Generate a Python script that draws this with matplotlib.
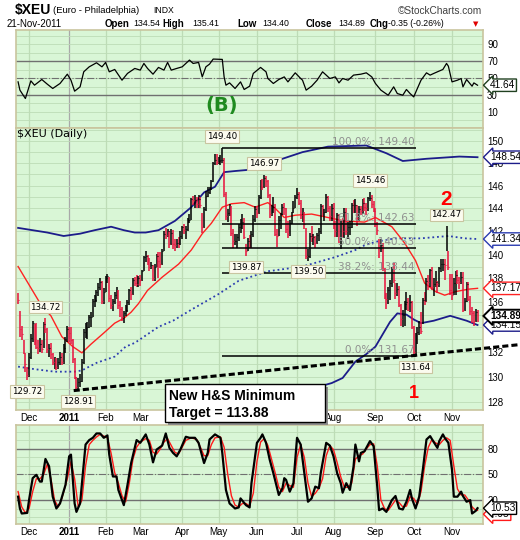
import numpy as np
import pandas as pd
import matplotlib
matplotlib.use('Agg')
import matplotlib.pyplot as plt
import matplotlib.transforms as mtrans
from matplotlib.patches import Rectangle
from matplotlib.ticker import FixedLocator, NullLocator, FuncFormatter

plt.rcParams['font.family'] = ['Liberation Sans', 'DejaVu Sans']

# ---------------- data ----------------
holidays = ['2010-11-25', '2010-12-24', '2011-01-17', '2011-02-21',
            '2011-04-22', '2011-05-30', '2011-07-04', '2011-09-05']
dates = pd.bdate_range('2010-11-22', '2011-11-21', freq='C', holidays=holidays)

prev_close = 136.7   # close before the first bar
open_last = 134.54

closes = [
    # Nov 2010
    136.2, 133.8, 133.4, 132.1, 131.0, 130.1,
    # Dec
    131.6, 133.1, 134.3, 132.8, 132.4, 132.3, 132.6, 132.2, 134.2, 133.8, 132.2,
    132.3, 131.8, 131.2, 131.2, 130.8, 131.2, 131.6, 131.2, 132.3, 133.0, 133.8,
    # Jan 2011
    133.5, 132.9, 131.4, 130.0, 129.2, 129.6, 129.7, 131.2, 133.6, 133.8, 134.0,
    134.8, 134.8, 136.1, 136.2, 136.9, 137.3, 137.7, 136.1, 136.9,
    # Feb
    138.0, 138.2, 136.4, 135.8, 136.1, 136.6, 136.9, 135.8, 135.5, 134.8, 135.1,
    135.4, 136.0, 137.0, 136.7, 137.9, 137.6, 137.5, 138.0,
    # Mar
    137.9, 138.6, 139.8, 139.9, 139.6, 139.0, 139.1, 138.0, 139.0, 139.9, 139.5,
    139.2, 140.3, 141.8, 141.7, 142.0, 140.9, 141.9, 140.9, 140.8, 141.0, 140.9, 141.6,
    # Apr
    142.4, 142.1, 142.2, 143.0, 143.0, 144.8, 144.7, 144.7, 144.4, 144.8, 144.3,
    142.4, 143.9, 145.1, 145.4, 145.8, 146.4, 148.0, 148.3, 148.1,
    # May
    148.2, 148.3, 148.3, 145.3, 143.3, 143.6, 144.1, 141.9, 141.2, 141.2, 141.5,
    142.4, 142.7, 142.8, 141.5, 140.3, 141.2, 140.7, 141.8, 143.1, 143.9,
    # Jun
    143.6, 145.0, 146.4, 145.9, 146.7, 146.4, 145.2, 143.5, 143.9, 144.1, 141.8,
    141.6, 143.0, 143.5, 144.1, 144.0, 142.2, 141.8, 142.7, 143.6, 144.0, 145.0,
    # Jul
    145.3, 144.5, 143.4, 143.4, 142.6, 139.9, 139.9, 141.6, 141.5, 141.5, 141.0,
    141.7, 142.0, 144.2, 143.7, 143.7, 145.0, 144.0, 143.3, 144.0,
    # Aug
    142.4, 142.0, 143.4, 141.3, 142.7, 142.0, 143.7, 142.0, 142.4, 142.4, 144.3,
    143.9, 144.3, 143.2, 143.9, 143.8, 144.5, 144.1, 144.0, 144.9, 144.9, 144.4, 143.8,
    # Sep
    142.6, 142.1, 140.7, 140.8, 138.8, 136.5, 136.3, 137.0, 137.6, 138.8, 137.9,
    136.8, 137.1, 135.8, 134.6, 135.0, 135.9, 136.0, 135.4, 136.0, 134.0,
    # Oct
    132.0, 133.4, 133.6, 134.0, 133.7, 136.2, 136.1, 137.8, 137.7, 138.7, 137.3,
    137.5, 137.7, 137.5, 138.9, 139.2, 139.2, 139.1, 141.7, 139.0, 137.0,
    # Nov
    136.6, 137.6, 138.3, 137.9, 137.7, 138.1, 135.4, 136.1, 137.5, 136.3, 135.3,
    135.1, 134.5, 135.24, 134.89,
]

highs = [
    136.8, 135.3, 134.1, 132.9, 131.9, 130.8,
    131.9, 133.4, 134.5, 134.2, 134.3, 132.9, 133.1, 132.9, 134.4, 134.72, 133.9,
    132.6, 132.7, 131.9, 131.6, 131.5, 131.5, 132.0, 131.9, 132.6, 133.2, 134.1,
    134.0, 134.0, 133.0, 131.5, 130.0, 129.9, 130.2, 131.4, 133.8, 134.3, 134.4,
    135.0, 135.2, 136.3, 136.6, 137.0, 137.6, 138.0, 137.8, 137.2,
    138.2, 138.4, 138.1, 136.6, 136.3, 136.9, 137.3, 137.0, 136.1, 135.6, 135.3,
    135.8, 136.2, 137.1, 137.3, 138.0, 138.1, 138.3, 138.2,
    138.3, 138.7, 139.9, 140.3, 140.0, 139.7, 139.4, 139.1, 139.2, 140.1, 140.2,
    140.2, 140.5, 142.0, 142.3, 142.2, 142.0, 142.2, 142.1, 141.3, 141.3, 141.5, 142.0,
    142.5, 142.6, 142.5, 143.2, 143.5, 144.9, 145.1, 145.2, 145.0, 145.2, 145.0,
    143.6, 144.1, 145.5, 145.9, 145.9, 146.5, 148.1, 148.8, 148.8,
    148.6, 148.7, 149.40, 148.5, 145.4, 143.9, 144.4, 144.2, 142.2, 141.8, 141.8,
    142.6, 143.1, 143.5, 143.2, 140.9, 141.4, 141.7, 142.0, 143.4, 144.2,
    144.2, 145.2, 146.5, 146.6, 146.97, 146.9, 146.5, 145.3, 144.3, 145.0, 144.4,
    142.2, 143.3, 143.6, 144.4, 144.5, 144.0, 142.9, 143.0, 143.7, 144.6, 145.2,
    145.8, 145.4, 144.7, 144.0, 143.7, 142.3, 140.5, 141.9, 142.5, 141.8, 141.6,
    141.9, 142.3, 144.4, 144.3, 143.9, 145.3, 145.1, 144.2, 144.4,
    144.5, 142.9, 143.6, 143.5, 142.9, 143.2, 144.0, 144.0, 142.8, 142.9, 144.5,
    144.7, 144.8, 144.3, 144.2, 144.2, 144.8, 144.9, 144.5, 145.0, 145.46, 145.2, 144.6,
    144.0, 142.8, 141.3, 141.3, 141.0, 138.9, 136.8, 137.3, 137.9, 139.0, 139.3,
    137.6, 137.6, 137.4, 135.9, 135.4, 136.1, 136.9, 136.4, 136.6, 136.1,
    134.1, 133.5, 134.0, 134.5, 135.2, 136.4, 136.9, 138.0, 138.3, 138.8, 139.0,
    138.0, 138.6, 137.8, 139.0, 139.6, 139.6, 139.6, 142.47, 140.3, 138.4,
    138.4, 138.0, 138.6, 138.7, 138.1, 138.5, 138.5, 136.4, 137.7, 137.7, 136.5,
    135.6, 135.3, 135.5, 135.41,
]

lows = [
    135.9, 133.2, 132.9, 131.8, 130.4, 129.72,
    130.0, 131.4, 132.8, 132.5, 132.2, 131.8, 132.0, 131.9, 132.3, 133.5, 131.9,
    131.6, 131.4, 130.9, 130.6, 130.5, 130.6, 130.9, 130.9, 131.0, 131.9, 132.8,
    132.8, 132.6, 131.1, 129.8, 128.95, 128.91, 129.2, 129.6, 131.0, 133.1, 133.0,
    133.9, 134.0, 134.8, 135.6, 136.0, 136.5, 137.0, 135.9, 135.9,
    136.9, 137.6, 136.0, 135.5, 135.3, 135.9, 136.3, 135.5, 134.8, 134.5, 134.3,
    134.9, 135.2, 135.8, 136.2, 136.6, 137.4, 137.3, 137.3,
    137.4, 137.8, 138.6, 139.4, 139.1, 138.6, 138.8, 137.8, 137.8, 139.0, 138.0,
    138.9, 139.1, 140.3, 141.3, 141.5, 140.6, 140.8, 140.5, 140.3, 140.6, 140.6, 140.8,
    141.3, 141.8, 141.3, 142.0, 142.7, 143.0, 144.3, 144.0, 144.0, 144.0, 144.0,
    141.9, 142.3, 143.8, 145.0, 145.3, 145.6, 146.3, 147.8, 147.8,
    147.9, 147.8, 148.0, 145.0, 143.0, 142.8, 143.3, 141.6, 140.6, 140.8, 140.6,
    141.2, 141.9, 142.2, 141.3, 139.87, 140.3, 140.6, 140.6, 141.5, 142.8,
    143.2, 143.5, 144.8, 145.6, 145.8, 145.9, 144.9, 143.2, 143.3, 143.6, 141.6,
    140.7, 141.6, 142.2, 143.4, 143.4, 141.9, 141.4, 141.6, 142.6, 143.6, 144.0,
    144.8, 144.3, 143.1, 142.8, 142.2, 139.6, 139.50, 139.7, 141.1, 140.8, 140.6,
    140.9, 141.2, 141.8, 143.3, 142.9, 143.6, 143.7, 142.9, 142.9,
    142.2, 141.5, 141.5, 141.0, 140.5, 141.5, 141.4, 141.7, 141.3, 141.7, 142.3,
    143.6, 143.6, 142.5, 142.9, 143.4, 143.5, 143.8, 143.4, 143.8, 144.6, 144.0, 143.7,
    142.4, 141.7, 139.7, 140.2, 138.6, 136.3, 135.5, 135.9, 136.2, 137.3, 137.6,
    136.3, 136.5, 135.6, 134.1, 134.0, 134.1, 135.4, 135.3, 135.2, 133.8,
    131.8, 131.64, 132.6, 133.3, 133.4, 134.2, 135.8, 136.0, 137.0, 137.3, 137.0,
    136.5, 137.3, 136.8, 137.3, 138.5, 138.6, 137.9, 140.3, 138.7, 136.6,
    136.2, 136.6, 136.6, 137.5, 137.1, 137.5, 135.2, 135.3, 136.0, 136.1, 135.0,
    134.3, 134.1, 134.4, 134.40,
]

# labelled highs / lows (trading-day index)
peak_idx = [15, 112, 135, 193, 235]
trough_idx = [5, 33, 125, 159, 218]

# moving averages / bands (day index, value)
sma50_idx = [0, 13, 18, 24, 30, 35, 40, 47, 53, 58, 62, 66, 71, 79, 88, 95, 101, 106,
             112, 117, 124, 130, 137, 141, 146, 152, 161, 170, 179, 190, 196, 205, 212,
             218, 223, 229, 234, 240, 247, 252]
sma50_val = [139.0, 135.7, 134.9, 133.2, 132.4, 131.9, 132.6, 133.5, 134.3, 134.7, 135.2,
             135.9, 137.0, 138.1, 139.2, 140.4, 141.8, 142.7, 144.1, 144.4, 144.5, 144.1,
             144.5, 144.0, 143.2, 143.4, 143.5, 143.2, 142.9, 142.8, 143.2, 142.4, 141.0,
             139.5, 137.6, 136.9, 136.6, 136.9, 137.1, 137.17]

sma200_idx = [0, 9, 20, 31, 35, 43, 53, 59, 64, 77, 85, 95, 110, 121, 137, 156, 174,
              185, 190, 196, 207, 221, 236, 245, 252]
sma200_val = [130.8, 130.6, 130.4, 130.4, 130.5, 131.1, 131.6, 132.4, 132.7, 134.0,
              134.5, 135.4, 136.7, 137.8, 138.6, 139.0, 139.8, 140.4, 140.8, 141.1,
              141.4, 141.4, 141.6, 141.4, 141.34]

upper_idx = [0, 16, 25, 34, 42, 51, 58, 64, 70, 77, 86, 95, 102, 108, 113, 119, 133,
             145, 156, 170, 191, 202, 211, 224, 242, 252]
upper_val = [142.3, 141.9, 141.6, 141.8, 142.1, 142.4, 142.1, 141.9, 141.9, 142.1,
             142.9, 144.1, 145.4, 145.9, 147.2, 147.3, 147.5, 148.4, 149.0, 149.5,
             149.6, 148.9, 148.2, 148.4, 148.6, 148.54]

lower_idx = [150, 160, 167, 172, 178, 185, 191, 196, 200, 204, 208, 213, 217, 221,
             228, 237, 246, 252]
lower_val = [126.0, 128.0, 129.3, 129.5, 129.9, 131.2, 131.8, 132.4, 133.4, 134.4,
             135.1, 135.0, 134.6, 134.3, 134.5, 134.9, 134.5, 134.15]

fib_pct = ['100.0%', '61.8%', '50.0%', '38.2%', '0.0%']
fib_val = [149.40, 142.63, 140.53, 138.44, 131.67]
fib_from, fib_to = 112, 218

trend_idx = [30.5, 275]
trend_val = [128.91, 132.56]

rsi_idx = [0, 1, 4, 7, 9, 13, 16, 19, 23, 27, 29, 31, 34, 36, 39, 43, 46, 48, 50, 53,
           57, 60, 64, 67, 69, 71, 74, 77, 80, 82, 84, 87, 90, 92, 94, 96, 99, 101,
           103, 105, 107, 112, 113, 114, 116, 119, 122, 124, 127, 129, 133, 136, 137,
           140, 143, 146, 148, 152, 155, 156, 158, 161, 164, 167, 169, 171, 174, 176,
           178, 181, 184, 188, 191, 194, 196, 199, 203, 206, 208, 211, 213, 215, 217,
           219, 221, 224, 226, 228, 230, 233, 235, 236, 238, 241, 243, 244, 246, 249,
           250, 252]
rsi_val = [45.6, 35.8, 25.9, 46.8, 41.7, 48.4, 42.9, 37.8, 43.7, 54.7, 47.6, 34.6, 39.7,
           57.5, 63.4, 68.2, 63.4, 68.6, 57.5, 60.3, 47.6, 55.6, 61.5, 59.5, 67.4, 61.5,
           54.7, 62.7, 59.5, 68.6, 59.5, 61.5, 63.4, 67.4, 71.4, 67.4, 68.6, 51.5, 63.4,
           66.6, 72.6, 72.2, 51.5, 41.7, 44.4, 37.8, 45.6, 36.6, 40.5, 55.6, 62.7, 57.5,
           49.6, 43.7, 48.4, 51.5, 45.6, 56.3, 49.6, 47.6, 35.8, 40.5, 47.6, 57.5, 53.6,
           49.6, 51.5, 44.4, 49.6, 47.6, 53.6, 54.7, 56.3, 51.5, 43.7, 35.8, 29.8, 39.7,
           31.8, 29.8, 36.6, 31.8, 27.8, 37.8, 47.6, 56.3, 53.6, 55.6, 57.5, 60.3, 67.4,
           64.2, 45.6, 47.6, 49.6, 39.7, 48.4, 40.5, 44.4, 41.64]

stk_idx = [0, 1, 2, 5, 6, 8, 10, 12, 13, 15, 17, 19, 21, 23, 26, 28, 29, 31, 32, 34, 37,
           39, 41, 43, 45, 47, 49, 50, 52, 54, 55, 58, 60, 62, 65, 67, 70, 72, 74, 76,
           79, 81, 83, 85, 87, 89, 92, 94, 97, 99, 102, 104, 105, 108, 111, 112, 114,
           116, 119, 121, 122, 125, 127, 128, 131, 133, 134, 136, 138, 140, 143, 145,
           146, 147, 149, 151, 153, 155, 157, 159, 161, 163, 165, 166, 169, 171, 173,
           175, 177, 178, 180, 182, 184, 185, 187, 188, 190, 193, 195, 197, 198, 200,
           202, 205, 207, 209, 211, 213, 215, 216, 218, 220, 222, 224, 226, 228, 230,
           231, 233, 234, 236, 238, 239, 241, 243, 244, 246, 248, 249, 251, 252]
stk_val = [24, 10.2, 4.3, 5, 20, 45.7, 49.6, 41.7, 41.7, 68.2, 59.5, 24, 10.2, 16.1,
           37.8, 71.3, 73.3, 16.1, 6.2, 16.1, 85.1, 90.3, 93, 98.1, 98.1, 93, 95.8, 73.3,
           47.7, 47.7, 31.9, 14.1, 37.8, 63.4, 90.3, 87.1, 97, 85.1, 64.2, 79.2, 83.9,
           98.1, 81.2, 75.3, 71.3, 79.2, 94.2, 93, 93, 87.1, 63.4, 75.3, 91, 97, 93, 75.3,
           31.9, 16.1, 10.2, 11.4, 22, 14.1, 11.4, 39.8, 87.1, 93, 97, 87.1, 67.4, 51.6,
           26, 33.9, 45.7, 43.7, 29.9, 39.8, 93, 85.1, 51.6, 18.1, 22, 35.8, 33.9, 51.6,
           87.1, 83.9, 71.3, 51.6, 39.8, 28.7, 39.8, 31.9, 59.5, 85.1, 65.4, 75.3, 77.2,
           89.1, 83.2, 35.8, 8.2, 10.2, 6.2, 20, 24.8, 10.2, 9, 18.1, 31.9, 22, 10.2, 24,
           55.6, 91, 95, 87.9, 81.2, 89.1, 97, 93, 87.1, 55.6, 24, 24, 29.9, 24.8, 18.1,
           20, 4.3, 7.4, 10.53]

std_idx = [0, 2, 4, 6, 8, 10, 12, 14, 16, 18, 20, 22, 24, 27, 29, 31, 33, 35, 37, 39,
           41, 43, 45, 47, 49, 51, 53, 55, 57, 59, 61, 63, 65, 67, 70, 72, 74, 76, 78,
           80, 82, 84, 86, 88, 90, 92, 95, 98, 100, 102, 104, 106, 108, 111, 113, 115,
           117, 119, 121, 123, 125, 127, 129, 131, 133, 135, 137, 139, 141, 143, 145,
           147, 149, 151, 153, 155, 157, 159, 161, 163, 165, 167, 169, 171, 173, 175,
           177, 179, 181, 183, 185, 187, 189, 191, 193, 195, 197, 199, 201, 203, 205,
           207, 209, 211, 213, 215, 217, 219, 221, 223, 225, 227, 229, 231, 233, 235,
           237, 239, 241, 243, 245, 247, 249, 251, 252]
std_val = [30, 12, 5, 10, 30, 45, 45, 50, 62, 45, 20, 12, 22, 45, 65, 45, 12, 20, 60, 85,
           90, 94, 97, 95, 93, 75, 52, 40, 25, 18, 40, 68, 82, 88, 92, 90, 76, 74, 80, 88,
           92, 84, 76, 74, 82, 90, 93, 91, 82, 72, 72, 85, 93, 94, 82, 50, 25, 14, 12, 16,
           16, 13, 28, 65, 88, 92, 84, 68, 52, 35, 30, 40, 37, 35, 70, 85, 70, 40, 24, 28,
           34, 45, 72, 84, 79, 64, 47, 35, 35, 40, 68, 72, 74, 80, 85, 86, 60, 20, 10, 8,
           14, 20, 17, 12, 13, 24, 22, 15, 30, 60, 82, 91, 87, 85, 90, 93, 90, 60, 33, 26,
           26, 20, 12, 8, 7.95]

n = len(dates)
assert len(closes) == n and len(highs) == n and len(lows) == n, (n, len(closes), len(highs), len(lows))

# ---------------- layout helpers ----------------
W, H = 520, 540


def fx(px):
    return px / W


def fy(py):
    return 1 - py / H


BG = '#d9f6d6'
GRID = '#bddcb6'
FRAME = '#c9c59e'
RED = '#e8103c'
NAVY = '#1c1c8a'
XMIN, XMAX = -1.15, 255.0

fig = plt.figure(figsize=(5.2, 5.4), dpi=100)
fig.patch.set_facecolor('white')

ax_rsi = fig.add_axes([fx(16), fy(128), 467 / W, 98 / H])
ax = fig.add_axes([fx(16), fy(410), 467 / W, 282 / H])
ax_st = fig.add_axes([fx(16), fy(524), 467 / W, 99 / H])

xi = np.arange(n)
month_pos = [i for i in range(1, n) if dates[i].month != dates[i - 1].month]
month_lab = ['2011' if dates[i].month == 1 else dates[i].strftime('%b') for i in month_pos]
# the note box hides these month names under the price panel
hidden = ['Apr', 'May', 'Jun', 'Jul']
main_lab = ['' if m in hidden else m for m in month_lab]

for a in (ax_rsi, ax, ax_st):
    a.set_facecolor(BG)
    a.set_xlim(XMIN, XMAX)
    for s in a.spines.values():
        s.set_color(FRAME)
        s.set_linewidth(1.2)
    for p in month_pos:
        a.axvline(p, color='#a9a9a9' if dates[p].month == 1 else GRID, lw=0.9, zorder=0)
    a.yaxis.tick_right()
    a.tick_params(axis='both', length=0, labelsize=7, pad=2)
    a.tick_params(axis='y', pad=3)
    a.set_xticks(month_pos)

ax_rsi.set_xticklabels([])
ax.set_xticklabels(main_lab)
ax_st.set_xticklabels(month_lab)
for a in (ax, ax_st):
    for t in a.get_xticklabels():
        if t.get_text() == '2011':
            t.set_fontweight('bold')

# ---------------- RSI panel ----------------
ax_rsi.set_ylim(-9, 107)
for v in range(0, 101, 10):
    ax_rsi.axhline(v, color=GRID, lw=0.6, zorder=0)
ax_rsi.axhline(70, color='#707070', lw=1.0, zorder=1)
ax_rsi.axhline(30, color='#707070', lw=1.0, zorder=1)
ax_rsi.axhline(50, color='#707070', lw=0.8, ls='-.', zorder=1)
ax_rsi.set_yticks([10, 30, 50, 70, 90])
ax_rsi.plot(rsi_idx, rsi_val, color='black', lw=0.9, zorder=3)

# ---------------- price panel ----------------
ax.set_yscale('log')
ax.set_ylim(127.4, 151.2)
for v in range(128, 152):
    ax.axhline(v, color=GRID, lw=0.6, zorder=0)
# 134 sits under the last-close tag, so it is not labelled
ax.yaxis.set_major_locator(FixedLocator([v for v in range(128, 151, 2) if v != 134]))
ax.yaxis.set_major_formatter(FuncFormatter(lambda v, p: '%d' % round(v)))
ax.yaxis.set_minor_locator(NullLocator())

all_prev = [prev_close] + closes[:-1]
bar_col = ['black' if c >= pc else RED for c, pc in zip(closes, all_prev)]
ax.vlines(xi, lows, highs, colors=bar_col, lw=1.1, zorder=4)
ax.hlines(closes, xi, xi + 0.5, colors=bar_col, lw=0.8, zorder=4)

ax.plot(upper_idx, upper_val, color=NAVY, lw=1.3, zorder=3)
ax.plot(lower_idx, lower_val, color=NAVY, lw=1.3, zorder=3)
ax.plot(sma200_idx, sma200_val, color='#2b3cb0', lw=1.3, ls=(0, (1, 1.6)), zorder=3)
ax.plot(sma50_idx, sma50_val, color='#ff2222', lw=1.0, zorder=3)

ax.hlines(fib_val, fib_from, fib_to, color='black', lw=1.1, zorder=5)
for p, v in zip(fib_pct, fib_val):
    ax.annotate('%s: %.2f' % (p, v), (fib_to, v), xytext=(-1, 1), textcoords='offset pixels',
                ha='right', va='bottom', fontsize=7.5, color='#8f8f8f',
                family='DejaVu Sans', zorder=6)

ax.plot(trend_idx, trend_val, color='black', lw=2.2, dashes=(2, 1), clip_on=False, zorder=6)

box_kw = dict(boxstyle='square,pad=0.2', fc='#fbfbef', ec='#c9c5a0', lw=0.8)
for i in peak_idx:
    ax.annotate('%.2f' % highs[i], (i, highs[i]), xytext=(0, 11), textcoords='offset pixels',
                ha='center', va='center', fontsize=6.3, family='DejaVu Sans',
                bbox=box_kw, zorder=15)
for i in trough_idx:
    ax.annotate('%.2f' % lows[i], (i, lows[i]), xytext=(0, -11), textcoords='offset pixels',
                ha='center', va='center', fontsize=6.3, family='DejaVu Sans',
                bbox=box_kw, zorder=15)

# ---------------- stochastic panel ----------------
ax_st.set_ylim(-8, 108)
for v in range(0, 101, 10):
    ax_st.axhline(v, color=GRID, lw=0.6, zorder=0)
ax_st.axhline(80, color='#707070', lw=1.0, zorder=1)
ax_st.axhline(20, color='#707070', lw=1.0, zorder=1)
ax_st.axhline(50, color='#707070', lw=0.8, ls='-.', zorder=1)
ax_st.set_yticks([20, 50, 80])
ax_st.plot(std_idx, std_val, color='#ff1a1a', lw=1.0, zorder=3)
ax_st.plot(stk_idx, stk_val, color='black', lw=1.6, zorder=4)


# ---------------- value tags on the right ----------------
def tag(a, y, text, ec, bold=False, lw=1.0):
    tr = mtrans.blended_transform_factory(a.transAxes, a.transData)
    a.text(1.0 + 7 / 467, y, text, transform=tr, ha='left', va='center', fontsize=7.3,
           fontweight='bold' if bold else 'normal', clip_on=False, zorder=30,
           bbox=dict(boxstyle='larrow,pad=0.12', fc='white', ec=ec, lw=lw))


tag(ax, upper_val[-1], '%.2f' % upper_val[-1], NAVY)
tag(ax, sma200_val[-1], '%.2f' % sma200_val[-1], '#2b3cb0')
tag(ax, sma50_val[-1], '%.2f' % sma50_val[-1], '#ff2222')
tag(ax, lower_val[-1], '%.2f' % lower_val[-1], NAVY)
tag(ax, closes[-1], '%.2f' % closes[-1], 'black', bold=True, lw=1.4)
tag(ax_rsi, rsi_val[-1], '%.2f' % rsi_val[-1], '#204020')
tag(ax_st, 3.5, '%.2f' % std_val[-1], '#ff1a1a')
tag(ax_st, stk_val[-1], '%.2f' % stk_val[-1], 'black')

# ---------------- header ----------------
fig.text(fx(15), fy(10), '$XEU', fontsize=10, fontweight='bold', va='center')
fig.text(fx(53), fy(10.5), '(Euro - Philadelphia)', fontsize=6.8, va='center')
fig.text(fx(153), fy(10.5), 'INDX', fontsize=6.2, va='center')
fig.text(fx(482), fy(10.5), '\u00a9StockCharts.com', fontsize=7.3, ha='right', va='center',
         color='#404040')

chg = closes[-1] - closes[-2]
head = [('21-Nov-2011', 7, 'normal', 7.0),
        ('Open', 105, 'bold', 7.0), ('%.2f' % open_last, 133, 'normal', 6.3),
        ('High', 162, 'bold', 7.0), ('%.2f' % highs[-1], 192, 'normal', 6.3),
        ('Low', 237, 'bold', 7.0), ('%.2f' % lows[-1], 262, 'normal', 6.3),
        ('Close', 306, 'bold', 7.0), ('%.2f' % closes[-1], 338, 'normal', 6.3),
        ('Chg', 370, 'bold', 7.0),
        ('%.2f (%.2f%%)' % (chg, 100 * chg / closes[-2]), 388, 'normal', 6.3)]
for txt, px, wt, fs in head:
    fig.text(fx(px), fy(24), txt, fontsize=fs, fontweight=wt, va='center')
fig.text(fx(476), fy(24), '\u25bc', fontsize=5, color='#e00000', va='center', ha='center',
         family='DejaVu Sans')

# ---------------- annotations ----------------
fig.text(fx(17), fy(134), '$XEU (Daily)', fontsize=8, va='center', family='DejaVu Sans')
fig.text(fx(222), fy(105), '(B)', fontsize=14, fontweight='bold', color='#1f8a1f',
         ha='center', va='center', family='DejaVu Sans')
fig.text(fx(446), fy(199.5), '2', fontsize=15, fontweight='bold', color='#ff0000',
         ha='center', va='center')
fig.text(fx(414), fy(393.5), '1', fontsize=13, fontweight='bold', color='#ff0000',
         ha='center', va='center')

fig.add_artist(Rectangle((fx(168), fy(425)), 160 / W, 38 / H, transform=fig.transFigure,
                         fc='#8c8c8c', ec='none', zorder=9))
fig.add_artist(Rectangle((fx(165), fy(422)), 160 / W, 38 / H, transform=fig.transFigure,
                         fc='white', ec='black', lw=1.0, zorder=10))
fig.text(fx(169), fy(396), 'New H&S Minimum', fontsize=10, fontweight='bold',
         va='center', zorder=11)
fig.text(fx(169), fy(413), 'Target = 113.88', fontsize=10, fontweight='bold',
         va='center', zorder=11)

fig.savefig('out.png', dpi=100, facecolor='white')
